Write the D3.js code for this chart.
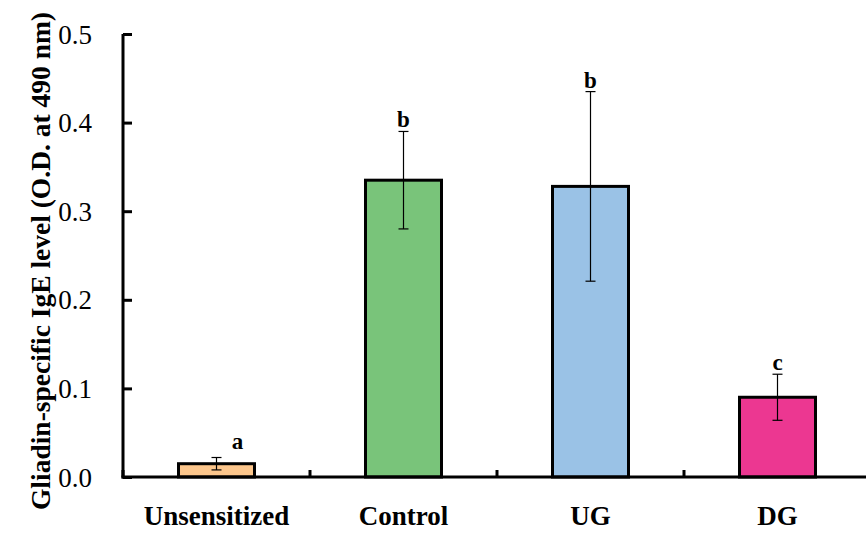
<!DOCTYPE html>
<html>
<head>
<meta charset="utf-8">
<script src="https://cdn.jsdelivr.net/npm/d3@7"></script>
<style>
  body { margin: 0; background: #fff; }
</style>
</head>
<body>
<svg width="866" height="536"></svg>
<script>
var groups = ["Unsensitized", "Control", "UG", "DG"];
var means = [0.015, 0.335, 0.328, 0.090];
var errors = [0.007, 0.055, 0.107, 0.026];
var letters = ["a", "b", "b", "c"];
var colors = ["#FCC68C", "#79C47A", "#9AC2E6", "#EC3791"];
var yTicks = [0, 0.1, 0.2, 0.3, 0.4, 0.5];

var serifFont = "Liberation Serif";
var svg = d3.select("svg");
var mLeft = 123, mBottom = 477, mTop = 34, bandW = 187;

var x = d3.scaleBand()
  .domain(groups)
  .range([mLeft, mLeft + bandW * groups.length])
  .paddingInner(0).paddingOuter(0);

var y = d3.scaleLinear()
  .domain([0, 0.5])
  .range([mBottom, mTop]);

var barW = 76;

// bars
svg.append("g").selectAll("rect")
  .data(groups)
  .enter().append("rect")
  .attr("x", function(d) { return x(d) + x.bandwidth() / 2 - barW / 2; })
  .attr("y", function(d, i) { return y(means[i]); })
  .attr("width", barW)
  .attr("height", function(d, i) { return y(0) - y(means[i]); })
  .attr("fill", function(d, i) { return colors[i]; })
  .attr("stroke", "#000")
  .attr("stroke-width", 3);

// error bars
var err = svg.append("g").attr("stroke", "#000").attr("stroke-width", 1.2);
groups.forEach(function(d, i) {
  var cx = x(d) + x.bandwidth() / 2;
  var hi = y(means[i] + errors[i]), lo = y(means[i] - errors[i]);
  err.append("line").attr("x1", cx).attr("x2", cx).attr("y1", hi).attr("y2", lo);
  err.append("line").attr("x1", cx - 5).attr("x2", cx + 5).attr("y1", hi).attr("y2", hi);
  err.append("line").attr("x1", cx - 5).attr("x2", cx + 5).attr("y1", lo).attr("y2", lo);
});

// significance letters
svg.append("g").selectAll("text")
  .data(letters)
  .enter().append("text")
  .attr("x", function(d, i) { return x(groups[i]) + x.bandwidth() / 2 + (i === 0 ? 21 : 0); })
  .attr("y", function(d, i) { return y(means[i] + errors[i]) - (i === 0 ? 9 : 4); })
  .attr("text-anchor", "middle")
  .attr("font-family", serifFont)
  .attr("font-size", 23)
  .attr("font-weight", "bold")
  .text(function(d) { return d; });

// y axis
var yAxis = svg.append("g")
  .attr("transform", "translate(" + mLeft + ",0)")
  .call(d3.axisRight(y).tickValues(yTicks).tickSize(9).tickFormat(d3.format(".1f")));
yAxis.attr("font-family", serifFont);
yAxis.select(".domain").attr("stroke", "#000").attr("stroke-width", 3)
  .attr("d", "M0," + (mBottom + 1.5) + "V" + mTop);
yAxis.selectAll(".tick line").attr("stroke", "#000").attr("stroke-width", 3);
yAxis.selectAll(".tick text")
  .attr("x", -31)
  .attr("dy", "0.34em")
  .attr("text-anchor", "end")
  .attr("font-family", serifFont)
  .attr("font-size", 27)
  .attr("fill", "#000");

// x axis with boundary ticks
var xAxis = svg.append("g");
xAxis.append("line")
  .attr("x1", mLeft - 1.5).attr("x2", 866)
  .attr("y1", mBottom).attr("y2", mBottom)
  .attr("stroke", "#000").attr("stroke-width", 3);
xAxis.selectAll(".sep")
  .data(groups)
  .enter().append("line")
  .attr("class", "sep")
  .attr("x1", function(d) { return x(d); })
  .attr("x2", function(d) { return x(d); })
  .attr("y1", mBottom).attr("y2", mBottom - 7)
  .attr("stroke", "#000").attr("stroke-width", 3);
xAxis.selectAll("text")
  .data(groups)
  .enter().append("text")
  .attr("x", function(d) { return x(d) + x.bandwidth() / 2; })
  .attr("y", 525)
  .attr("text-anchor", "middle")
  .attr("font-family", serifFont)
  .attr("font-size", 27)
  .attr("font-weight", "bold")
  .text(function(d) { return d; });

// y title
svg.append("text")
  .attr("transform", "translate(50,261) rotate(-90)")
  .attr("text-anchor", "middle")
  .attr("font-family", serifFont)
  .attr("font-size", 27.5)
  .attr("font-weight", "bold")
  .text("Gliadin-specific IgE level (O.D. at 490 nm)");
</script>
</body>
</html>
